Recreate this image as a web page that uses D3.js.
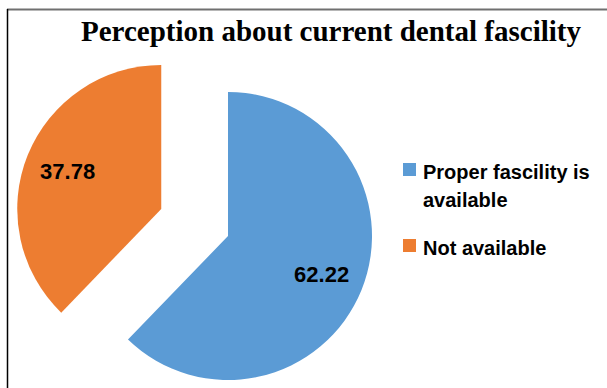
<!DOCTYPE html>
<html>
<head>
<meta charset="utf-8">
<script src="https://cdn.jsdelivr.net/npm/d3@7"></script>
<style>
  html, body { margin: 0; padding: 0; background: #fff; }
  svg { display: block; }
</style>
</head>
<body>
<script>
// Survey result: perception of the current dental facility (percent)
const categories = ["Proper fascility is available", "Not available"];
const legendLines = [["Proper fascility is", "available"], ["Not available"]];
const values = [62.22, 37.78];
const colors = ["#5B9BD5", "#ED7D31"];
const exploded = [false, true];

const W = 607, H = 388;
const svg = d3.select("body").append("svg").attr("width", W).attr("height", H);

svg.append("rect").attr("width", W).attr("height", H).attr("fill", "#fff");

// frame edges
svg.append("line").attr("x1", 7).attr("x2", W).attr("y1", 9.5).attr("y2", 9.5)
  .attr("stroke", "#707070").attr("stroke-width", 2);
svg.append("line").attr("x1", 7.5).attr("x2", 7.5).attr("y1", 9).attr("y2", H)
  .attr("stroke", "#000").attr("stroke-width", 1.5);

// title
svg.append("text")
  .attr("x", 331).attr("y", 41)
  .attr("text-anchor", "middle")
  .attr("font-family", "'Liberation Serif', 'Times New Roman', serif")
  .attr("font-weight", "bold")
  .attr("font-size", 29)
  .attr("fill", "#000")
  .text("Perception about current dental fascility");

// pie
const cx = 228, cy = 236, r = 144, explodeDist = 72, labelR = 101;
const pie = d3.pie().sort(null).value(d => d)(values);
const arc = d3.arc().innerRadius(0).outerRadius(r);

const g = svg.append("g").attr("transform", `translate(${cx},${cy})`);

pie.forEach((p, i) => {
  const mid = (p.startAngle + p.endAngle) / 2;
  const off = exploded[i] ? explodeDist : 0;
  const ox = off * Math.sin(mid), oy = -off * Math.cos(mid);
  const sg = g.append("g").attr("transform", `translate(${ox},${oy})`);
  sg.append("path").attr("d", arc(p)).attr("fill", colors[i]);
  sg.append("text")
    .attr("x", labelR * Math.sin(mid))
    .attr("y", -labelR * Math.cos(mid))
    .attr("dy", "0.36em")
    .attr("text-anchor", "middle")
    .attr("font-family", "'Liberation Sans', Arial, sans-serif")
    .attr("font-weight", "bold")
    .attr("font-size", 22)
    .attr("fill", "#000")
    .text(d3.format(".2f")(values[i]));
});

// legend
const legendY = [163, 239];
const lg = svg.append("g");
categories.forEach((c, i) => {
  lg.append("rect").attr("x", 403).attr("y", legendY[i]).attr("width", 13).attr("height", 13)
    .attr("fill", colors[i]);
  const t = lg.append("text")
    .attr("x", 423).attr("y", legendY[i] + 16)
    .attr("font-family", "'Liberation Sans', Arial, sans-serif")
    .attr("font-weight", "bold")
    .attr("font-size", 20)
    .attr("fill", "#000");
  legendLines[i].forEach((ln, k) => {
    t.append("tspan").attr("x", 423).attr("dy", k === 0 ? 0 : 28).text(ln);
  });
});
</script>
</body>
</html>
